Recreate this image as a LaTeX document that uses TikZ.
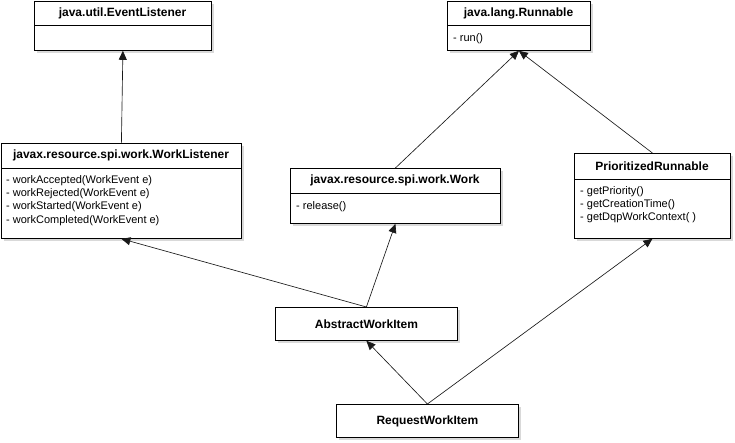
\documentclass[tikz,border=0pt]{standalone}
\usepackage{fontspec}
\setmainfont{Liberation Sans}
\usetikzlibrary{arrows.meta,shadows,calc}
\tikzset{
  classbox/.style={draw, line width=0.8pt, fill=white, anchor=north west, inner sep=0pt,
    font=\fontsize{12}{14}\selectfont\bfseries,
    drop shadow={shadow xshift=2.5pt, shadow yshift=-2.5pt, opacity=0.3}},
  classname/.style={font=\fontsize{12}{14}\selectfont\bfseries, inner sep=0pt},
  members/.style={font=\fontsize{11}{13.3}\selectfont, align=left, anchor=north west, inner sep=0pt},
  divider/.style={line width=0.8pt},
  inherit/.style={-{Triangle[length=9pt,width=8pt]}, line width=0.65pt, draw=black!90}
}
\begin{document}
\begin{tikzpicture}[x=1pt,y=-1pt]
  \useasboundingbox (0,0) rectangle (735,443);
  % interfaces at the top
  \node[classbox, minimum width=177pt, minimum height=49pt] (evl) at (34,1) {};
  \draw[divider] ($(evl.north west)+(0,24)$) -- ($(evl.north east)+(0,24)$);
  \node[classname] (evl-name) at (122.5,13) {java.util.EventListener};

  \node[classbox, minimum width=143pt, minimum height=49pt] (run) at (447,1) {};
  \draw[divider] ($(run.north west)+(0,24)$) -- ($(run.north east)+(0,24)$);
  \node[classname] (run-name) at (518.5,13) {java.lang.Runnable};
  \node[members] (run-ops) at (453,33) {- run()};

  % middle row
  \node[classbox, minimum width=240pt, minimum height=95pt] (wl) at (1,143) {};
  \draw[divider] ($(wl.north west)+(0,25)$) -- ($(wl.north east)+(0,25)$);
  \node[classname] (wl-name) at (121,155.5) {javax.resource.spi.work.WorkListener};
  \node[members] (wl-ops) at (6,175) {- workAccepted(WorkEvent e)\\- workRejected(WorkEvent e)\\- workStarted(WorkEvent e)\\- workCompleted(WorkEvent e)};

  \node[classbox, minimum width=210pt, minimum height=55pt] (work) at (290,168) {};
  \draw[divider] ($(work.north west)+(0,25)$) -- ($(work.north east)+(0,25)$);
  \node[classname] (work-name) at (395,180.5) {javax.resource.spi.work.Work};
  \node[members] (work-ops) at (296,201) {- release()};

  \node[classbox, minimum width=156pt, minimum height=85pt] (prio) at (574,153) {};
  \draw[divider] ($(prio.north west)+(0,26)$) -- ($(prio.north east)+(0,26)$);
  \node[classname] (prio-name) at (652,166) {PrioritizedRunnable};
  \node[members] (prio-ops) at (580,186) {- getPriority()\\- getCreationTime()\\- getDqpWorkContext( )};

  % work items
  \node[classbox, minimum width=182pt, minimum height=33pt] (awi) at (275,307) {AbstractWorkItem};
  \node[classbox, minimum width=182pt, minimum height=33pt] (rwi) at (336,404) {RequestWorkItem};

  % generalisations
  \draw[inherit] (wl.north) -- (evl.south);
  \draw[inherit] (work.north) -- (run.south);
  \draw[inherit] (prio.north) -- (run.south);
  \draw[inherit] (awi.north) -- (wl.south);
  \draw[inherit] (awi.north) -- (work.south);
  \draw[inherit] (rwi.north) -- (awi.south);
  \draw[inherit] (rwi.north) -- (prio.south);
\end{tikzpicture}
\end{document}
